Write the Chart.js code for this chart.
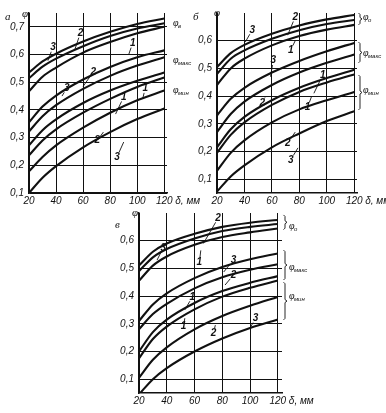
<!DOCTYPE html>
<html>
<head>
<meta charset="utf-8">
<script src="https://cdn.jsdelivr.net/npm/chart.js@4.4.1/dist/chart.umd.min.js"></script>
<style>
body { margin: 0; background: #fff; width: 386px; height: 413px; position: relative; overflow: hidden; }
canvas { position: absolute; }
</style>
</head>
<body>
<canvas id="pa" width="200" height="205" style="left:0px;top:0px"></canvas>
<canvas id="pb" width="196" height="205" style="left:190px;top:0px"></canvas>
<canvas id="pc" width="215" height="213" style="left:100px;top:200px"></canvas>
<script>
// thickness δ, mm
const xs = [20, 30, 40, 60, 80, 100, 120];

// panel а
const aV3   = [0.535, 0.575, 0.603, 0.647, 0.682, 0.71, 0.73];
const aV2   = [0.515, 0.556, 0.585, 0.63, 0.667, 0.694, 0.713];
const aV1   = [0.467, 0.52, 0.553, 0.607, 0.645, 0.677, 0.70];
const aMax3 = [0.355, 0.412, 0.452, 0.51, 0.555, 0.59, 0.615];
const aMax2 = [0.322, 0.377, 0.417, 0.476, 0.523, 0.56, 0.59];
const aMax1 = [0.272, 0.327, 0.366, 0.425, 0.47, 0.505, 0.535];
const aMin1 = [0.236, 0.29, 0.33, 0.39, 0.44, 0.483, 0.517];
const aMin2 = [0.178, 0.23, 0.272, 0.336, 0.39, 0.435, 0.47];
const aMin3 = [0.10, 0.155, 0.197, 0.265, 0.32, 0.367, 0.405];

// panel б
const bV3   = [0.505, 0.555, 0.585, 0.625, 0.655, 0.677, 0.693];
const bV2   = [0.48, 0.535, 0.565, 0.607, 0.638, 0.66, 0.675];
const bV1   = [0.44, 0.50, 0.535, 0.583, 0.617, 0.64, 0.657];
const bMax3 = [0.33, 0.39, 0.43, 0.485, 0.527, 0.562, 0.592];
const bMax2 = [0.27, 0.335, 0.38, 0.44, 0.485, 0.52, 0.55];
const bMax1 = [0.215, 0.28, 0.325, 0.385, 0.43, 0.465, 0.495];
const bMin1 = [0.195, 0.26, 0.305, 0.368, 0.415, 0.449, 0.478];
const bMin2 = [0.13, 0.195, 0.24, 0.305, 0.352, 0.385, 0.415];
const bMin3 = [0.055, 0.11, 0.15, 0.215, 0.265, 0.31, 0.345];

// panel в
const cV3   = [0.51, 0.56, 0.59, 0.625, 0.65, 0.665, 0.675];
const cV2   = [0.49, 0.54, 0.57, 0.608, 0.635, 0.65, 0.66];
const cV1   = [0.455, 0.51, 0.543, 0.585, 0.613, 0.63, 0.644];
const cMax3 = [0.31, 0.37, 0.41, 0.465, 0.505, 0.533, 0.554];
const cMax2 = [0.28, 0.335, 0.372, 0.428, 0.468, 0.495, 0.515];
const cMax1 = [0.20, 0.27, 0.315, 0.375, 0.418, 0.448, 0.472];
const cMin1 = [0.175, 0.245, 0.29, 0.352, 0.398, 0.43, 0.456];
const cMin2 = [0.105, 0.17, 0.215, 0.28, 0.328, 0.365, 0.397];
const cMin3 = [0.045, 0.10, 0.14, 0.20, 0.247, 0.285, 0.315];

// curve numbers: [text x, text y, label, leader end x, leader end y] (data units)
const aNums = [
  [37.7, 0.627, "3", 34, 0.578], [58, 0.678, "2", 54, 0.62], [96.7, 0.642, "1", 93.7, 0.60],
  [48, 0.479, "3", 44.4, 0.45], [67.5, 0.537, "2", 60, 0.485], [90, 0.447, "1", 84, 0.385],
  [106, 0.479, "1", 104, 0.44], [70.5, 0.29, "2", 75, 0.32], [85, 0.23, "3", 90, 0.284]
];
const bNums = [
  [45.7, 0.639, "3", 40.6, 0.595], [77, 0.686, "2", 71.5, 0.62], [73.7, 0.566, "1", 77, 0.60],
  [61, 0.53, "3", 59, 0.47], [53, 0.375, "2", 55, 0.395], [97, 0.476, "1", 90.6, 0.41],
  [86, 0.36, "1", 89, 0.40], [71.5, 0.23, "2", 77, 0.27], [73.7, 0.17, "3", 79, 0.213]
];
const cNums = [
  [37.4, 0.574, "3", 33, 0.53], [77, 0.682, "2", 66.4, 0.59], [63.5, 0.523, "1", 64.5, 0.565],
  [88, 0.53, "3", 81, 0.487], [88, 0.476, "2", 82, 0.44], [58.4, 0.397, "1", 53, 0.35],
  [52, 0.29, "1", 53, 0.32], [73.6, 0.267, "2", 75, 0.295], [104, 0.32, "3", 100, 0.285]
];

// group labels: [label y, subscript, brace top, brace bottom]
const aGroups = [[0.714, "в", null, null], [0.58, "макс", null, null], [0.472, "мин", null, null]];
const bGroups = [[0.686, "о", 0.70, 0.657], [0.556, "макс", 0.595, 0.52], [0.422, "мин", 0.476, 0.35]];
const cGroups = [[0.653, "о", 0.693, 0.64], [0.505, "макс", 0.566, 0.458], [0.40, "мин", 0.45, 0.314]];

const numFont = 'italic 10px "Liberation Sans Narrow", "Liberation Sans", sans-serif';

const decor = {
  id: 'decor',
  afterDraw(chart, args, o) {
    const { ctx, chartArea: ca, scales: { x, y } } = chart;
    ctx.save();
    ctx.fillStyle = '#111';
    ctx.strokeStyle = '#111';
    ctx.textBaseline = 'middle';
    // panel letter and axis name
    ctx.font = 'italic 11px "Liberation Serif", serif';
    ctx.textAlign = 'left';
    ctx.fillText(o.letter, o.letterPos[0], o.letterPos[1]);
    ctx.fillText('φ', o.phiPos[0], o.phiPos[1]);
    // δ, мм after last tick
    ctx.font = numFont;
    ctx.fillText('δ, мм', x.getPixelForValue(120) + 11, ca.bottom + 8);
    // curve numbers with leaders
    ctx.lineWidth = 0.9;
    o.nums.forEach(([tx, ty, t, lx, ly]) => {
      const px = x.getPixelForValue(tx), py = y.getPixelForValue(ty);
      const qx = x.getPixelForValue(lx), qy = y.getPixelForValue(ly);
      ctx.font = 'italic bold 10px "Liberation Sans Narrow", sans-serif';
      ctx.textAlign = 'center';
      ctx.fillText(t, px, py);
      const dx = qx - px, dy = qy - py, d = Math.hypot(dx, dy) || 1;
      ctx.beginPath();
      ctx.moveTo(px + dx / d * 5, py + dy / d * 5);
      ctx.lineTo(qx, qy);
      ctx.stroke();
    });
    // group labels and braces
    o.groups.forEach(([gy, sub, b1, b2]) => {
      const py = y.getPixelForValue(gy);
      const lx = ca.right + o.labelDx;
      ctx.textAlign = 'left';
      ctx.font = 'italic 10px "Liberation Serif", serif';
      ctx.fillText('φ', lx, py);
      ctx.font = 'italic 6px "Liberation Sans Narrow", sans-serif';
      ctx.fillText(sub, lx + 5, py + 3);
      if (b1 !== null) {
        const y1 = y.getPixelForValue(b1), y2 = y.getPixelForValue(b2);
        const bx = ca.right + 3;
        ctx.lineWidth = 0.9;
        ctx.beginPath();
        ctx.moveTo(bx - 1.5, y1);
        ctx.lineTo(bx, y1 + 1.5);
        ctx.lineTo(bx, (y1 + y2) / 2 - 1.5);
        ctx.lineTo(bx + 2, (y1 + y2) / 2);
        ctx.lineTo(bx, (y1 + y2) / 2 + 1.5);
        ctx.lineTo(bx, y2 - 1.5);
        ctx.lineTo(bx - 1.5, y2);
        ctx.stroke();
      }
    });
    ctx.restore();
  }
};

function makeChart(id, curves, cfg) {
  const datasets = curves.map(c => ({
    data: c.map((v, i) => ({ x: xs[i], y: v })),
    borderColor: '#111',
    borderWidth: 2.1,
    pointRadius: 0,
    cubicInterpolationMode: 'monotone',
    fill: false
  }));
  return new Chart(document.getElementById(id), {
    type: 'line',
    data: { datasets },
    plugins: [decor],
    options: {
      responsive: false,
      animation: false,
      events: [],
      layout: { padding: { left: 0, top: cfg.padTop, right: cfg.padRight, bottom: 0 } },
      plugins: {
        legend: { display: false },
        tooltip: { enabled: false },
        decor: cfg.decor
      },
      scales: {
        x: {
          type: 'linear',
          min: 20,
          max: cfg.xMax,
          afterFit: s => { s.height = cfg.xAxisH; },
          border: { color: '#111', width: 1.5 },
          grid: { color: '#111', lineWidth: 1, drawTicks: false },
          ticks: {
            stepSize: 10,
            includeBounds: false,
            autoSkip: false,
            maxRotation: 0,
            padding: 2,
            color: '#111',
            font: { family: '"Liberation Sans Narrow", "Liberation Sans", sans-serif', size: 10, style: 'italic' },
            callback: v => (v % 20 === 0 && v <= 120) ? String(v) : null
          }
        },
        y: {
          type: 'linear',
          min: cfg.yMin,
          max: cfg.yMax,
          afterFit: s => { s.width = cfg.yAxisW; },
          border: { color: '#111', width: 1.5 },
          grid: { color: '#111', lineWidth: 1, drawTicks: false },
          ticks: {
            stepSize: 0.05,
            autoSkip: false,
            padding: 5,
            color: '#111',
            font: { family: '"Liberation Sans Narrow", "Liberation Sans", sans-serif', size: 10, style: 'italic' },
            callback: v => {
              const k = Math.round(v * 100);
              return (k % 10 === 0 && k <= cfg.yLabelMax) ? (k / 100).toFixed(1).replace('.', ',') : null;
            }
          }
        }
      }
    }
  });
}

makeChart('pa', [aV3, aV2, aV1, aMax3, aMax2, aMax1, aMin1, aMin2, aMin3], {
  yMin: 0.1, yMax: 0.75, yLabelMax: 70, xMax: 122, yAxisW: 29, xAxisH: 12, padTop: 13, padRight: 33,
  decor: { letter: 'а', letterPos: [5, 17], phiPos: [22, 14], nums: aNums, groups: aGroups, labelDx: 6 }
});
makeChart('pb', [bV3, bV2, bV1, bMax3, bMax2, bMax1, bMin1, bMin2, bMin3], {
  yMin: 0.05, yMax: 0.7, yLabelMax: 60, xMax: 122, yAxisW: 27, xAxisH: 12, padTop: 13, padRight: 29,
  decor: { letter: 'б', letterPos: [3, 17], phiPos: [24, 13], nums: bNums, groups: bGroups, labelDx: 6 }
});
makeChart('pc', [cV3, cV2, cV1, cMax3, cMax2, cMax1, cMin1, cMin2, cMin3], {
  yMin: 0.05, yMax: 0.7, yLabelMax: 60, xMax: 123, yAxisW: 39, xAxisH: 20, padTop: 13, padRight: 33,
  decor: { letter: 'в', letterPos: [15, 25], phiPos: [32, 13], nums: cNums, groups: cGroups, labelDx: 7 }
});
</script>
</body>
</html>
